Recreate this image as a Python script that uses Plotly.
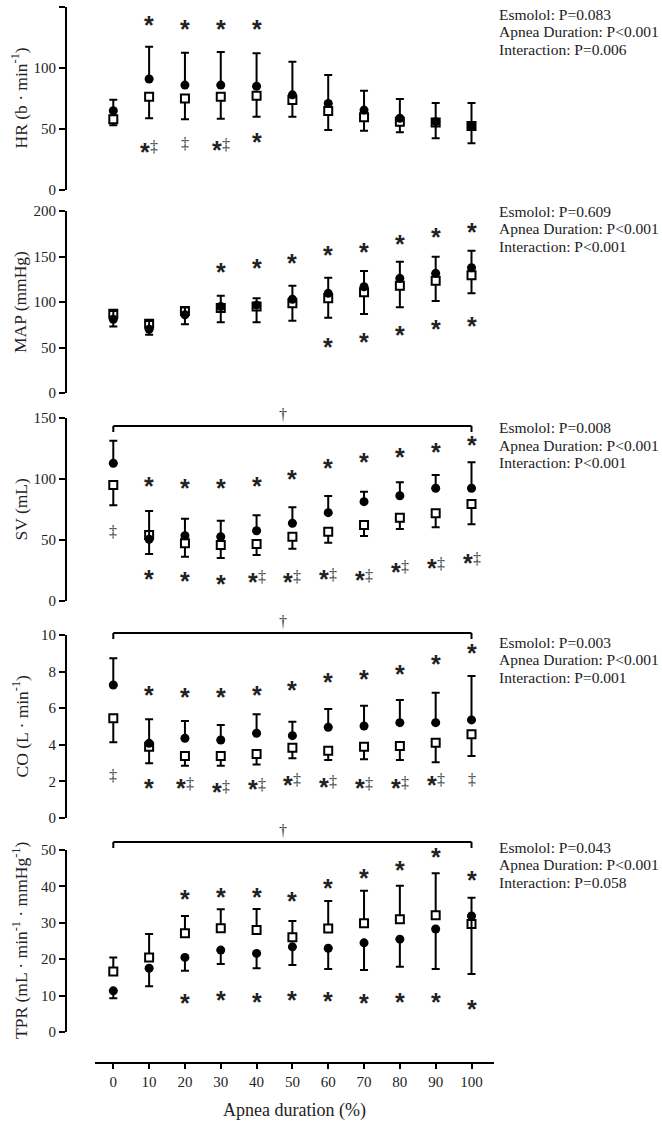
import plotly.graph_objects as go

W, H = 662, 1123

# ---------------- data ----------------
apnea_pct = [0, 10, 20, 30, 40, 50, 60, 70, 80, 90, 100]
x_tick_vals = [0, 10, 20, 30, 40, 50, 60, 70, 80, 90, 100]

# HR (b·min-1)
hr_circle = [65, 91, 86, 86, 85, 78, 71, 65.5, 58.8, 56, 52.5]
hr_square = [58, 76.5, 75, 76.5, 77.3, 73.8, 64.8, 59.6, 56, 55.3, 52.5]
hr_circle_err = [9, 26.5, 26.6, 27.1, 27, 27.2, 23.3, 15.9, 15.8, 15.3, 18.8]
hr_square_err = [5, 17.7, 17, 18, 17.2, 13.7, 15.6, 11, 8.7, 12.9, 14.2]

# MAP (mmHg)
map_circle = [81, 70, 86, 95, 96.5, 103, 109.5, 116.8, 126, 131.5, 137.7]
map_square = [87, 76, 90, 93.5, 95, 98.5, 104, 110.6, 117.9, 123.4, 129.3]
map_circle_err = [9, 9, 8, 12, 7.5, 14.9, 17.2, 17.2, 18.3, 18.3, 18.7]
map_square_err = [14, 12, 14.5, 15.8, 17.3, 19, 21.2, 23.8, 23.7, 22.3, 19.8]

# SV (mL)
sv_circle = [112.9, 50.6, 53.5, 52.7, 57.6, 63.7, 72.4, 81.4, 86.3, 92.4, 92.4]
sv_square = [95.1, 54.1, 47.3, 45.9, 46.7, 52.7, 56.8, 62.3, 68.3, 71.9, 79.5]
sv_circle_err = [18.5, 23.2, 14, 13.1, 12.6, 13.1, 13.7, 8.2, 11, 10.9, 21.3]
sv_square_err = [16.7, 15.6, 11, 10.7, 9, 9.8, 9, 9, 9.3, 11.5, 16.6]

# CO (L·min-1)
co_circle = [7.27, 4.08, 4.36, 4.26, 4.63, 4.5, 4.96, 5.03, 5.21, 5.21, 5.36]
co_square = [5.45, 3.9, 3.39, 3.39, 3.5, 3.84, 3.68, 3.9, 3.93, 4.11, 4.57]
co_circle_err = [1.46, 1.31, 0.94, 0.82, 1.04, 0.76, 1.0, 1.11, 1.24, 1.64, 2.4]
co_square_err = [1.31, 0.91, 0.53, 0.53, 0.57, 0.58, 0.51, 0.69, 0.76, 1.07, 1.18]

# TPR (mL·min-1·mmHg-1)
tpr_circle = [11.3, 17.5, 20.5, 22.5, 21.6, 23.4, 23.0, 24.5, 25.5, 28.3, 31.9]
tpr_square = [16.6, 20.5, 27.1, 28.5, 28.0, 26.0, 28.4, 29.9, 31.0, 32.1, 29.7]
tpr_circle_err = [2.0, 4.9, 3.7, 3.8, 4.1, 5.0, 5.7, 7.5, 7.6, 11.0, 16.0]
tpr_square_err = [3.9, 6.4, 4.8, 5.2, 5.8, 4.5, 7.6, 8.9, 9.2, 11.5, 7.2]

# significance symbols: (apnea %, value level, symbol)
hr_marks = [(10, 139.3, "S"), (20, 136, "S"), (30, 136, "S"), (40, 136, "S"),
            (10, 35.5, "SD"), (20, 38.3, "D"), (30, 36.9, "SD"), (40, 43.2, "S")]
map_marks = [(30, 138.8, "S"), (40, 142.5, "S"), (50, 148, "S"), (60, 157.2, "S"),
             (70, 160.8, "S"), (80, 169.2, "S"), (90, 177.3, "S"), (100, 182.8, "S"),
             (60, 56.4, "S"), (70, 61.9, "S"), (80, 69.2, "S"), (90, 75.5, "S"), (100, 79.1, "S")]
sv_marks = [(10, 98.4, "S"), (20, 96.7, "S"), (30, 96.7, "S"), (40, 98.4, "S"), (50, 104.1, "S"),
            (60, 113.1, "S"), (70, 118, "S"), (80, 122.1, "S"), (90, 126.2, "S"), (100, 132, "S"),
            (0, 56.8, "D"), (10, 22.1, "S"), (20, 20.5, "S"), (30, 18, "S"), (40, 19.7, "SD"),
            (50, 19.7, "SD"), (60, 22.1, "SD"), (70, 21.3, "SD"), (80, 27.9, "SD"),
            (90, 31.1, "SD"), (100, 35.2, "SD")]
co_marks = [(10, 6.99, "S"), (20, 6.9, "S"), (30, 6.9, "S"), (40, 6.99, "S"), (50, 7.27, "S"),
            (60, 7.69, "S"), (70, 7.87, "S"), (80, 8.14, "S"), (90, 8.67, "S"), (100, 9.27, "S"),
            (0, 2.35, "D"), (10, 1.89, "S"), (20, 1.89, "SD"), (30, 1.71, "SD"), (40, 1.84, "SD"),
            (50, 2.08, "SD"), (60, 1.98, "SD"), (70, 1.89, "SD"), (80, 1.93, "SD"),
            (90, 2.08, "SD"), (100, 2.08, "D")]
tpr_marks = [(20, 37.9, "S"), (30, 38.5, "S"), (40, 38.5, "S"), (50, 37.4, "S"), (60, 40.8, "S"),
             (70, 43.6, "S"), (80, 45.9, "S"), (90, 49.5, "S"), (100, 43.1, "S"),
             (20, 9.3, "S"), (30, 10.2, "S"), (40, 9.7, "S"), (50, 10.2, "S"), (60, 9.9, "S"),
             (70, 9.3, "S"), (80, 9.5, "S"), (90, 9.7, "S"), (100, 7.7, "S")]

hr_stats = ["Esmolol: P=0.083", "Apnea Duration: P&lt;0.001", "Interaction: P=0.006"]
map_stats = ["Esmolol: P=0.609", "Apnea Duration: P&lt;0.001", "Interaction: P&lt;0.001"]
sv_stats = ["Esmolol: P=0.008", "Apnea Duration: P&lt;0.001", "Interaction: P&lt;0.001"]
co_stats = ["Esmolol: P=0.003", "Apnea Duration: P&lt;0.001", "Interaction: P=0.001"]
tpr_stats = ["Esmolol: P=0.043", "Apnea Duration: P&lt;0.001", "Interaction: P=0.058"]

# ---------------- layout geometry (pixels) ----------------
X0_PX, X100_PX = 113.3, 471.5
SCALE = (X100_PX - X0_PX) / 100.0
AX_LEFT, AX_RIGHT = 67, 494
BOTTOM_AX_LEFT = 95
BOTTOM_AX_Y = 1062


def fx(p):
    return p / W


def fy(p):
    return 1 - p / H


SERIF = "Liberation Serif"
STAR_FONT = "Liberation Sans"
TXT = "#222"
STAR_SIZE = 25
STAR_SHIFT = -5

panels = [
    dict(title="HR (b · min<sup>-1</sup>)", top=7, bottom=190, rng=[0, 150], dtick=50,
         circle=hr_circle, square=hr_square, cerr=hr_circle_err, serr=hr_square_err,
         circle_up=True, marks=hr_marks, stats=hr_stats, stat_y=14, bracket=None),
    dict(title="MAP (mmHg)", top=211, bottom=393, rng=[0, 200], dtick=50,
         circle=map_circle, square=map_square, cerr=map_circle_err, serr=map_square_err,
         circle_up=True, marks=map_marks, stats=map_stats, stat_y=211, bracket=None),
    dict(title="SV (mL)", top=418, bottom=601, rng=[0, 150], dtick=50,
         circle=sv_circle, square=sv_square, cerr=sv_circle_err, serr=sv_square_err,
         circle_up=True, marks=sv_marks, stats=sv_stats, stat_y=428, bracket=426),
    dict(title="CO (L · min<sup>-1</sup>)", top=635, bottom=818, rng=[0, 10], dtick=2,
         circle=co_circle, square=co_square, cerr=co_circle_err, serr=co_square_err,
         circle_up=True, marks=co_marks, stats=co_stats, stat_y=642, bracket=633),
    dict(title="TPR (mL · min<sup>-1</sup> · mmHg<sup>-1</sup>)", top=850, bottom=1032, rng=[0, 50],
         dtick=10, circle=tpr_circle, square=tpr_square, cerr=tpr_circle_err, serr=tpr_square_err,
         circle_up=False, marks=tpr_marks, stats=tpr_stats, stat_y=847, bracket=842),
]

fig = go.Figure()
annotations = []
shapes = []
zeros = [0] * len(apnea_pct)

xr = [(AX_LEFT - X0_PX) / SCALE, (AX_RIGHT - X0_PX) / SCALE]


def star(xa, ya, xv, yv, dx=0):
    return dict(text="*", xref=xa, yref=ya, x=xv, y=yv, xanchor="center", yanchor="middle",
                showarrow=False, xshift=dx, yshift=STAR_SHIFT,
                font=dict(family=STAR_FONT, size=STAR_SIZE, color=TXT, weight="bold"))


def ddagger(xa, ya, xv, yv, dx=0):
    return dict(text="‡", xref=xa, yref=ya, x=xv, y=yv, xanchor="center", yanchor="middle",
                showarrow=False, xshift=dx,
                font=dict(family=SERIF, size=16, color="#333"))


for i, p in enumerate(panels, start=1):
    xa = "x" if i == 1 else f"x{i}"
    ya = "y" if i == 1 else f"y{i}"
    circ_up = p["cerr"] if p["circle_up"] else zeros
    circ_dn = zeros if p["circle_up"] else p["cerr"]
    sq_up = zeros if p["circle_up"] else p["serr"]
    sq_dn = p["serr"] if p["circle_up"] else zeros

    fig.add_trace(go.Scatter(
        x=apnea_pct, y=p["square"], mode="markers", xaxis=xa, yaxis=ya, showlegend=False,
        marker=dict(symbol="square", size=8, color="white", line=dict(color="black", width=2)),
        error_y=dict(type="data", symmetric=False, array=sq_up, arrayminus=sq_dn,
                     color="black", thickness=2, width=4),
    ))
    fig.add_trace(go.Scatter(
        x=apnea_pct, y=p["circle"], mode="markers", xaxis=xa, yaxis=ya, showlegend=False,
        marker=dict(symbol="circle", size=9, color="black", line=dict(width=0)),
        error_y=dict(type="data", symmetric=False, array=circ_up, arrayminus=circ_dn,
                     color="black", thickness=2, width=4),
    ))

    xkey = "xaxis" if i == 1 else f"xaxis{i}"
    ykey = "yaxis" if i == 1 else f"yaxis{i}"
    fig.update_layout({
        xkey: dict(domain=[fx(AX_LEFT), fx(AX_RIGHT)], range=xr, visible=False,
                   anchor=ya, fixedrange=True),
        ykey: dict(domain=[fy(p["bottom"]), fy(p["top"])], range=p["rng"], anchor=xa,
                   dtick=p["dtick"], tick0=0, showline=True, linewidth=2, linecolor="black",
                   ticks="outside", ticklen=6, tickwidth=2, tickcolor="black",
                   showgrid=False, zeroline=False, automargin=False, fixedrange=True,
                   tickfont=dict(family=SERIF, size=15, color=TXT)),
    })

    # y-axis title
    annotations.append(dict(
        text=p["title"], xref="paper", yref="paper", x=fx(20), y=fy((p["top"] + p["bottom"]) / 2),
        xanchor="center", yanchor="middle", textangle=-90, showarrow=False,
        font=dict(family=SERIF, size=17.5, color=TXT)))

    # statistics text
    for k, line in enumerate(p["stats"]):
        annotations.append(dict(
            text=line, xref="paper", yref="paper", x=fx(497), y=fy(p["stat_y"] + 17.5 * k),
            xanchor="left", yanchor="middle", showarrow=False,
            font=dict(family=SERIF, size=15.5, color=TXT)))

    # significance symbols
    for (xv, yv, kind) in p["marks"]:
        if kind == "S":
            annotations.append(star(xa, ya, xv, yv))
        elif kind == "D":
            annotations.append(ddagger(xa, ya, xv, yv))
        else:
            annotations.append(star(xa, ya, xv, yv, dx=-4))
            annotations.append(ddagger(xa, ya, xv, yv, dx=5))

    # bracket with dagger
    if p["bracket"] is not None:
        by = p["bracket"]
        shapes.append(dict(type="line", xref=xa, yref="paper", x0=apnea_pct[0], x1=apnea_pct[-1],
                           y0=fy(by), y1=fy(by), line=dict(color="black", width=2)))
        for xe in (apnea_pct[0], apnea_pct[-1]):
            shapes.append(dict(type="line", xref=xa, yref="paper", x0=xe, x1=xe,
                               y0=fy(by), y1=fy(by + 6), line=dict(color="black", width=2)))
        annotations.append(dict(
            text="†", xref="paper", yref="paper", x=fx(283), y=fy(by - 1),
            xanchor="center", yanchor="bottom", showarrow=False,
            font=dict(family=SERIF, size=16, color="#333")))

# bottom x axis
fig.add_trace(go.Scatter(x=[], y=[], xaxis="x6", yaxis="y6", showlegend=False))
fig.update_layout(
    xaxis6=dict(domain=[fx(BOTTOM_AX_LEFT), fx(AX_RIGHT)],
                range=[(BOTTOM_AX_LEFT - X0_PX) / SCALE, (AX_RIGHT - X0_PX) / SCALE],
                anchor="y6", side="bottom", tickvals=x_tick_vals,
                showline=True, linewidth=2, linecolor="black", ticks="outside", ticklen=5,
                tickwidth=2, tickcolor="black", showgrid=False, zeroline=False,
                automargin=False, fixedrange=True,
                tickfont=dict(family=SERIF, size=15, color=TXT)),
    yaxis6=dict(domain=[fy(BOTTOM_AX_Y), fy(BOTTOM_AX_Y - 2)], visible=False, range=[0, 1],
                fixedrange=True),
)
annotations.append(dict(
    text="Apnea duration (%)", xref="paper", yref="paper", x=fx(294), y=fy(1110),
    xanchor="center", yanchor="middle", showarrow=False,
    font=dict(family=SERIF, size=18, color=TXT)))

fig.update_layout(
    width=W, height=H, margin=dict(l=0, r=0, t=0, b=0),
    paper_bgcolor="white", plot_bgcolor="white",
    annotations=annotations, shapes=shapes, showlegend=False,
)

fig.write_html("out.html", config={"displayModeBar": False},
               post_script="document.body.style.margin='0px';document.body.style.overflow='hidden';")
